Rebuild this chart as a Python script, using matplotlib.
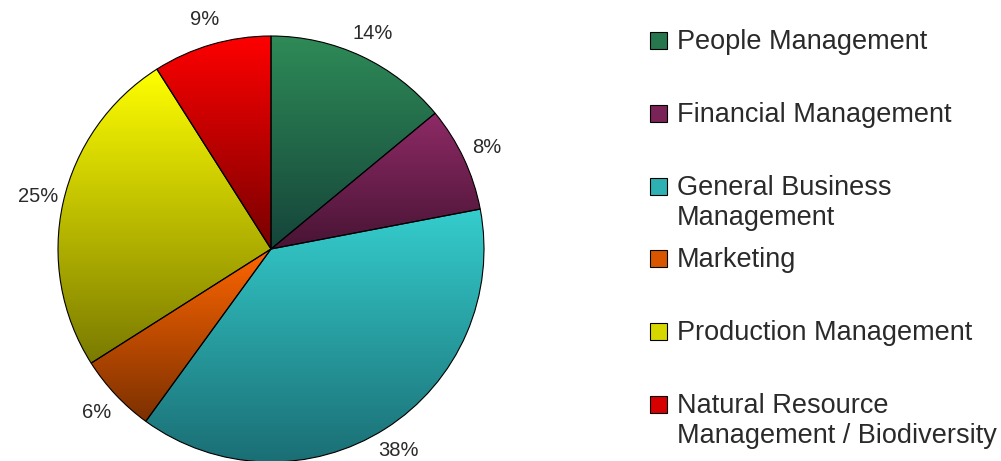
import numpy as np
import matplotlib.pyplot as plt
from matplotlib.patches import Rectangle
from matplotlib.colors import to_rgb

plt.rcParams['font.family'] = ['Liberation Sans', 'DejaVu Sans']

categories = ['People Management', 'Financial Management',
              'General Business\nManagement', 'Marketing',
              'Production Management',
              'Natural Resource\nManagement / Biodiversity']
shares = [14, 8, 38, 6, 25, 9]
top_colors = ['#2e8b57', '#8e2a66', '#35cdcd', '#ff6600', '#ffff00', '#ff0000']
bottom_colors = ['#15443a', '#481434', '#1a6e74', '#7c3000', '#7a7a00', '#780000']

W, H = 1001, 461
fig = plt.figure(figsize=(W / 100, H / 100), dpi=100)
ax = fig.add_axes([0, 0, 1, 1])

cx, cy, r = 271, H - 249, 213
wedges, texts = ax.pie(shares, labels=[f'{v}%' for v in shares], colors=top_colors,
                       startangle=90, counterclock=False, center=(cx, cy), radius=r,
                       labeldistance=1.12,
                       wedgeprops=dict(edgecolor='black', linewidth=0.8),
                       textprops=dict(fontsize=14.5, color='#2a2a2a'))
for t in texts:
    t.set_ha('center')
    t.set_va('center')

# vertical gradient inside each wedge (light at its top, dark at its bottom)
for w, c1, c2 in zip(wedges, top_colors, bottom_colors):
    w.set_facecolor('none')
    w.set_zorder(3)
    verts = w.get_patch_transform().transform(w.get_path().vertices)
    y0, y1 = verts[:, 1].min(), verts[:, 1].max()
    t = np.linspace(0, 1, 256)[:, None]
    grad = (1 - t) * np.array(to_rgb(c1)) + t * np.array(to_rgb(c2))
    im = ax.imshow(grad[:, None, :], extent=(cx - r, cx + r, y0, y1),
                   origin='upper', aspect='auto', zorder=2, interpolation='bilinear')
    im.set_clip_path(w)

# legend drawn by hand, fixed slots top-aligned
leg_x, leg_top, slot = 650, 32, 72.8
for i, (lab, c1, c2) in enumerate(zip(categories, top_colors, bottom_colors)):
    ytop = leg_top + i * slot
    mc = 0.7 * np.array(to_rgb(c1)) + 0.3 * np.array(to_rgb(c2))
    ax.add_patch(Rectangle((leg_x, H - ytop - 17), 17, 17, facecolor=mc,
                           edgecolor='black', linewidth=0.8, zorder=4))
    ax.text(leg_x + 27, H - ytop + 3, lab, fontsize=19.5, color='#2a2a2a',
            ha='left', va='top', linespacing=1.22)

ax.set_xlim(0, W)
ax.set_ylim(0, H)
ax.set_aspect('auto')
ax.axis('off')

fig.savefig('out.png', dpi=100, facecolor='white')
